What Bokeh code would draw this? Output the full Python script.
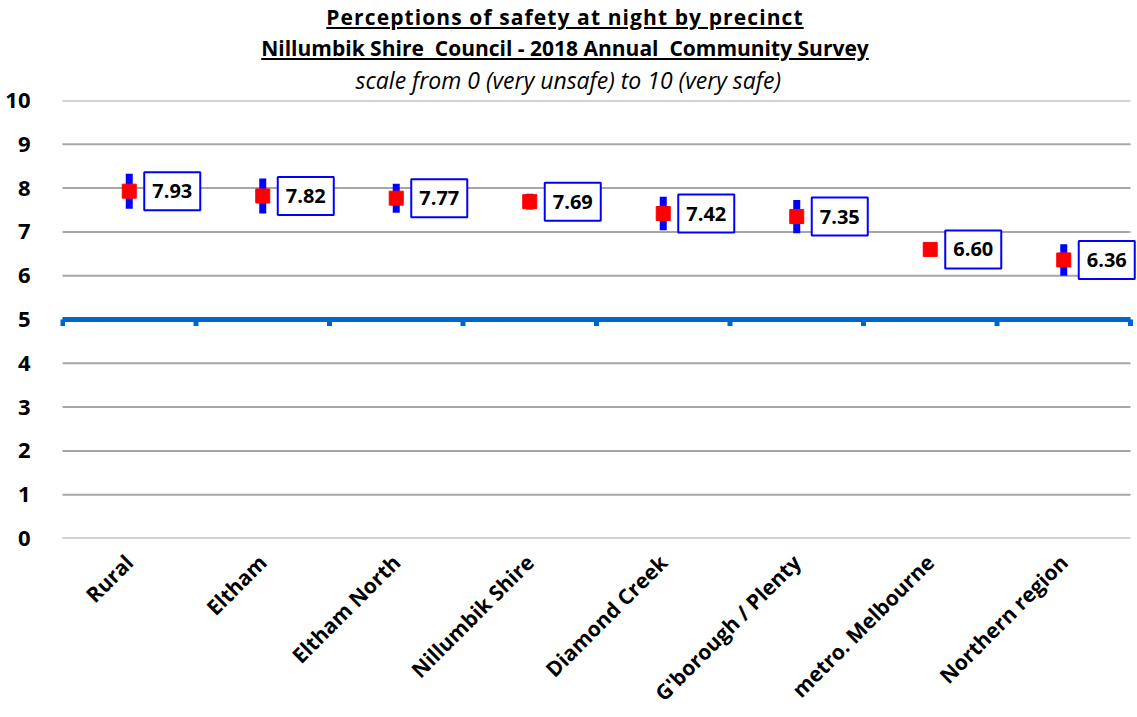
from math import pi
from bokeh.plotting import figure
from bokeh.models import Range1d, FixedTicker, ColumnDataSource, Div
from bokeh.core.properties import value
from bokeh.layouts import column
from bokeh.embed import file_html
from bokeh.resources import INLINE

categories = ["Rural", "Eltham", "Eltham North", "Nillumbik Shire", "Diamond Creek",
              "G'borough / Plenty", "metro. Melbourne", "Northern region"]
means = [7.93, 7.82, 7.77, 7.69, 7.42, 7.35, 6.60, 6.36]
ci_half = [0.40, 0.40, 0.33, 0.18, 0.38, 0.38, 0.10, 0.36]
y_ticks = [0, 1, 2, 3, 4, 5, 6, 7, 8, 9, 10]

FONT = "Open Sans"
n = len(categories)
xs = [i + 0.5 for i in range(n)]
src = ColumnDataSource(dict(
    x=xs,
    mean=means,
    lo=[m - c for m, c in zip(means, ci_half)],
    hi=[m + c for m, c in zip(means, ci_half)],
    label=[f"{m:.2f}" for m in means],
))

p = figure(frame_width=1076, frame_height=438, output_backend="svg", toolbar_location=None,
           x_range=Range1d(-0.015, n + 0.045), y_range=Range1d(0, 10),
           title="scale from 0 (very unsafe) to 10 (very safe)",
           min_border_left=60, min_border_right=1, min_border_top=0, min_border_bottom=4)
p.outline_line_color = None
p.border_fill_color = None
p.background_fill_color = None
p.xgrid.grid_line_color = None
p.ygrid.grid_line_color = None

p.title.align = "left"
p.title.offset = 295
p.title.text_font = FONT
p.title.text_font_style = "italic"
p.title.text_font_size = "23px"
p.title.text_color = "black"
p.title.standoff = 9

# horizontal grid lines across the category span
p.segment(x0=[0] * len(y_ticks), y0=y_ticks, x1=[n] * len(y_ticks), y1=y_ticks,
          line_color="#a6a6a6", line_width=2)

p.yaxis.ticker = FixedTicker(ticks=y_ticks)
p.yaxis.axis_line_color = None
p.yaxis.major_tick_line_color = None
p.yaxis.minor_tick_line_color = None
p.yaxis.major_label_text_font = FONT
p.yaxis.major_label_text_font_style = "bold"
p.yaxis.major_label_text_font_size = "22px"
p.yaxis.major_label_text_color = "black"
p.yaxis.major_label_standoff = 24

p.xaxis.ticker = FixedTicker(ticks=xs)
p.xaxis.major_label_overrides = {x: c for x, c in zip(xs, categories)}
p.xaxis.axis_line_color = None
p.xaxis.major_tick_line_color = None
p.xaxis.minor_tick_line_color = None
p.xaxis.major_label_orientation = pi / 4
p.xaxis.major_label_text_font = FONT
p.xaxis.major_label_text_font_style = "bold"
p.xaxis.major_label_text_font_size = "21px"
p.xaxis.major_label_text_color = "black"
p.xaxis.major_label_standoff = 14

# blue axis line crossing at 5, with category-boundary ticks
bounds = list(range(n + 1))
p.segment(x0=[0], y0=[5], x1=[n], y1=[5], line_color="#0066cc", line_width=5)
p.segment(x0=bounds, y0=[5] * len(bounds), x1=bounds, y1=[4.85] * len(bounds),
          line_color="#0066cc", line_width=5)

p.segment(x0="x", y0="lo", x1="x", y1="hi", source=src, line_color="#0000ff", line_width=7)
p.scatter(x="x", y="mean", source=src, marker="square", size=14,
          fill_color="#ff0000", line_color="#ff0000")

p.text(x="x", y="mean", text="label", source=src, x_offset=15, y_offset=0,
       text_align="left", text_baseline="middle",
       text_font=value(FONT), text_font_style="bold", text_font_size="20px",
       text_color="black", background_fill_color="white",
       border_line_color="#0000ff", border_line_width=2, padding=(8, 12))

title = Div(text=(
    f"<div style='width:1130px;text-align:center;font-family:\"{FONT}\";color:#000;padding-top:2px;'>"
    "<div style='font-weight:bold;font-size:21px;text-decoration:underline;line-height:30.5px;letter-spacing:1.1px;'>"
    "Perceptions of safety at night by precinct</div>"
    "<div style='font-weight:bold;font-size:21px;text-decoration:underline;line-height:30.5px;white-space:pre;'>"
    "Nillumbik Shire  Council - 2018 Annual  Community Survey</div></div>"),
    width=1130, height=57, margin=(0, 0, 0, 0))

layout = column(title, p, spacing=0)
open("out.html", "w").write(file_html(layout, INLINE))
